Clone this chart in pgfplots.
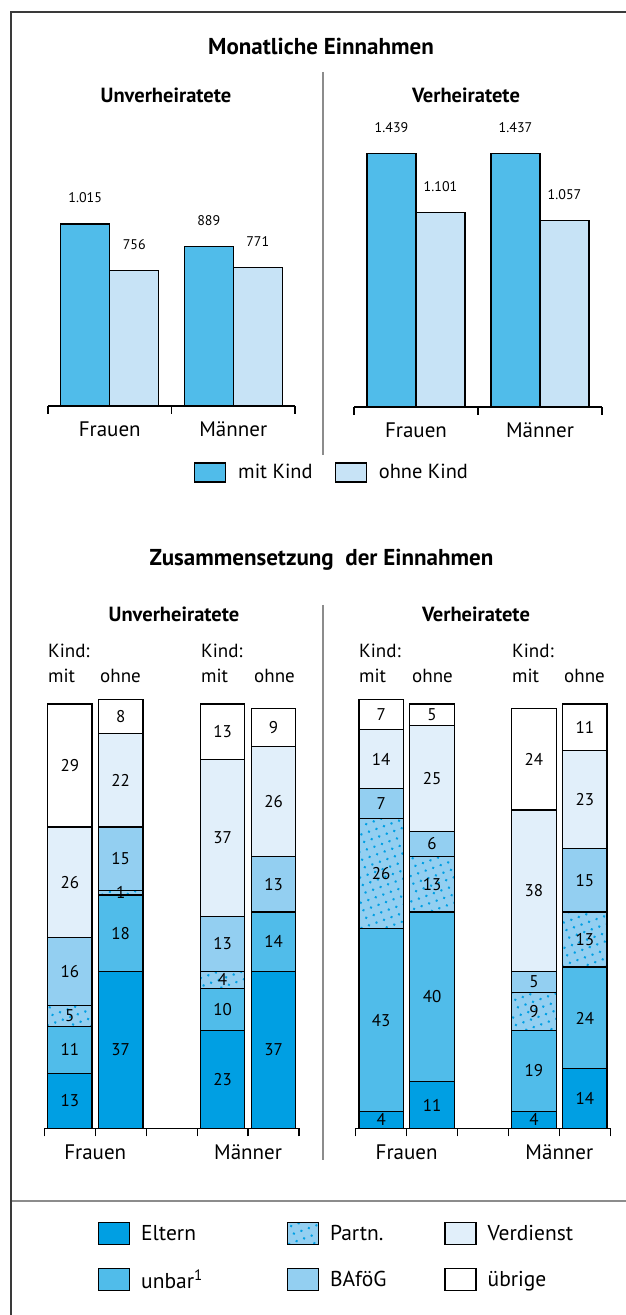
\documentclass[border=0pt]{standalone}
\usepackage{fontspec}
\setmainfont{PT Sans}
\usepackage{pgfplots}
\pgfplotsset{compat=1.18}
\usepackage{pgfplotstable}
\usetikzlibrary{patterns.meta}

\definecolor{cEltern}{HTML}{009FE3}
\definecolor{cUnbar}{HTML}{50BCEA}
\definecolor{cBafoeg}{HTML}{93CFF1}
\definecolor{cVerd}{HTML}{E1EFFA}
\definecolor{cOhne}{HTML}{C7E3F6}
\definecolor{cFrame}{HTML}{3A3A3A}
\definecolor{cDiv}{HTML}{8C8C8C}

\newcommand{\fs}[1]{\fontsize{#1}{#1}\selectfont}

\pgfplotstableread{
x Eltern unbar Partn BAfoeG Verdienst uebrige
0 13 11 5 16 26 29
1 37 18 1 15 22 8
3 23 10 4 13 37 13
4 37 14 0 13 26 9
}\unv
\pgfplotstableread{
x Eltern unbar Partn BAfoeG Verdienst uebrige
0 4 43 26 7 14 7
1 11 40 13 6 25 5
3 4 19 9 5 38 24
4 14 24 13 15 23 11
}\verh
\pgfplotstableread{
x mit ohne
0 1015 756
1 889 771
}\einU
\pgfplotstableread{
x mit ohne
0 1439 1101
1 1437 1057
}\einV

\pgfplotsset{
  base/.style={
    scale only axis, enlargelimits=false, clip=false,
    axis y line=none, axis x line*=bottom, ytick=\empty, ymin=0,
    axis line style={line width=1.2pt, black},
    tick align=outside, major tick length=0pt, minor tick length=8pt,
    tick style={black, line width=1.2pt},
    tick label style={font=\fs{21}},
    xticklabel style={anchor=base, yshift=-31pt},
    every axis plot/.append style={draw=black, line width=1.2pt},
    legend cell align=left,
  },
  topax/.style={
    base, ybar=0pt, bar width=49pt, ymax=1600,
    xmin=-0.5, xmax=1.5, xtick={0,1}, xticklabels={Frauen,Männer},
    minor xtick={-0.5,0.5,1.5},
    nodes near coords={\pgfmathprintnumber[assume math mode=true,1000 sep={.}]{\pgfplotspointmeta}},
    every node near coord/.append style={anchor=center, yshift=26pt, font=\fs{14}, text=black},
  },
  botax/.style={
    base, ybar stacked, bar width=44.5pt, ymax=110, height=466.7pt,
    xmin=-0.5, xmax=4.5, xtick={0.5,3.5}, xticklabels={Frauen,Männer},
    minor xtick={-0.5,0.5,1.5,2.5,3.5,4.5},
    point meta=explicit symbolic,
    nodes near coords={\pgfplotspointmeta},
    every node near coord/.append style={anchor=center, font=\fs{17}, text=black},
  },
  partn/.style={fill=cBafoeg, postaction={pattern={Dots[distance=8pt,radius=1.4pt,angle=20]}, pattern color=cEltern}},
}

\begin{document}
\begin{tikzpicture}
\fill[white] (0pt,0pt) rectangle (626pt,1315pt);
\useasboundingbox (0pt,0pt) rectangle (626pt,1315pt);
\draw[cFrame, line width=1.5pt] (11pt,0pt) -- (11pt,1303pt) -- (626pt,1303pt);
\draw[cDiv, line width=1.2pt] (323pt,1243pt) -- (323pt,860pt);
\draw[cDiv, line width=1.2pt] (323pt,710pt) -- (323pt,155pt);
\draw[cDiv, line width=1.2pt] (12pt,114pt) -- (626pt,114pt);

\node[anchor=base, inner sep=0pt, font=\bfseries\fs{23}] at (321pt,1260pt) {Monatliche Einnahmen};
\node[anchor=base, inner sep=0pt, font=\bfseries\fs{20.5}] at (166pt,1212pt) {Unverheiratete};
\node[anchor=base, inner sep=0pt, font=\bfseries\fs{20.5}] at (466pt,1212pt) {Verheiratete};
\node[anchor=base, inner sep=0pt, font=\bfseries\fs{23}] at (321.5pt,749pt) {Zusammensetzung\ \ der Einnahmen};
\node[anchor=base, inner sep=0pt, font=\bfseries\fs{20.5}] at (174pt,693pt) {Unverheiratete};
\node[anchor=base, inner sep=0pt, font=\bfseries\fs{20.5}] at (476pt,693pt) {Verheiratete};

\foreach \xk/\xo in {48/100, 201/254, 359/412, 512/564} {
  \node[anchor=base west, inner sep=0pt, font=\fs{19}] at (\xk pt,657pt) {Kind:};
  \node[anchor=base west, inner sep=0pt, font=\fs{19}] at (\xk pt,632pt) {mit};
  \node[anchor=base west, inner sep=0pt, font=\fs{19}] at (\xo pt,632pt) {ohne};
}

% top left
\begin{axis}[topax, at={(48pt,909pt)}, anchor=south west, width=247pt, height=286.9pt,
  legend columns=-1,
  legend style={at={(axis description cs:0.5911,-0.2318)}, anchor=west, draw=none, fill=none,
    inner sep=0pt, outer sep=0pt, font=\fs{20.4}, nodes={inner sep=0pt},
    /tikz/column sep=12pt, /tikz/every even column/.append style={column sep=22pt}},
  every axis plot post/.append style={legend image code/.code={\draw[##1,line width=1.2pt] (0pt,-9.5pt) rectangle (31pt,9.5pt);}},
]
\addplot[fill=cUnbar] table[x=x,y=mit]{\einU};
\addlegendentry{mit Kind}
\addplot[fill=cOhne] table[x=x,y=ohne]{\einU};
\addlegendentry{ohne Kind}
\end{axis}

% top right
\begin{axis}[topax, at={(354pt,908pt)}, anchor=south west, width=248pt, height=282.2pt]
\addplot[fill=cUnbar] table[x=x,y=mit]{\einV};
\addplot[fill=cOhne] table[x=x,y=ohne]{\einV};
\end{axis}

% bottom left
\begin{axis}[botax, at={(44.3pt,186.7pt)}, anchor=south west, width=254.7pt,
  legend columns=2, transpose legend,
  legend style={at={(axis description cs:0.2108,-0.2008)}, anchor=north west, draw=none, fill=none,
    inner sep=0pt, outer sep=0pt, font=\fs{21.5}, nodes={inner sep=0pt}, row sep=23pt,
    /tikz/column sep=11pt,
    /tikz/column 2/.style={column sep=84pt},
    /tikz/column 4/.style={column sep=58pt}},
  every axis plot post/.append style={legend image code/.code={\draw[##1,line width=1.2pt] (0pt,-11pt) rectangle (31pt,11pt);}},
]
\addplot[fill=cEltern] table[x=x,y=Eltern,meta=Eltern]{\unv};
\addlegendentry{Eltern}
\addplot[fill=cUnbar] table[x=x,y=unbar,meta=unbar]{\unv};
\addlegendentry{unbar\textsuperscript{1}}
\addplot[partn] table[x=x,y=Partn,meta=Partn]{\unv};
\addlegendentry{Partn.}
\addplot[fill=cBafoeg] table[x=x,y=BAfoeG,meta=BAfoeG]{\unv};
\addlegendentry{BAföG}
\addplot[fill=cVerd] table[x=x,y=Verdienst,meta=Verdienst]{\unv};
\addlegendentry{Verdienst}
\addplot[fill=white] table[x=x,y=uebrige,meta=uebrige]{\unv};
\addlegendentry{übrige}
\end{axis}

% bottom right
\begin{axis}[botax, at={(355.7pt,186.7pt)}, anchor=south west, width=254.6pt]
\addplot[fill=cEltern] table[x=x,y=Eltern,meta=Eltern]{\verh};
\addplot[fill=cUnbar] table[x=x,y=unbar,meta=unbar]{\verh};
\addplot[partn] table[x=x,y=Partn,meta=Partn]{\verh};
\addplot[fill=cBafoeg] table[x=x,y=BAfoeG,meta=BAfoeG]{\verh};
\addplot[fill=cVerd] table[x=x,y=Verdienst,meta=Verdienst]{\verh};
\addplot[fill=white] table[x=x,y=uebrige,meta=uebrige]{\verh};
\end{axis}
\end{tikzpicture}
\end{document}
